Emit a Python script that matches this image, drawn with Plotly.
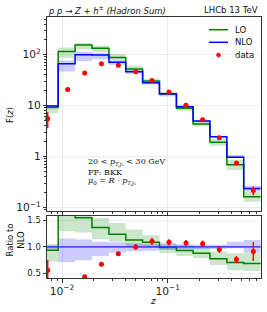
import plotly.graph_objects as go

# ---- data ----
edges = [0.0064, 0.0092, 0.0133, 0.0192, 0.0278, 0.0401, 0.0579, 0.0836,
         0.121, 0.174, 0.251, 0.363, 0.524, 0.757]
nlo = [9.8, 66, 100, 98, 71, 46, 28, 17, 9.5, 4.95, 2.45, 0.97, 0.235]
nlo_up = [10.1, 76.6, 114, 107.8, 77.4, 49.2, 29.7, 17.85, 9.93, 5.15, 2.55, 1.067, 0.266]
nlo_dn = [9.4, 46.9, 75, 81.3, 63.2, 42.3, 26.0, 16.0, 9.07, 4.75, 2.35, 0.946, 0.209]
lo = [9.2, 116, 155, 134, 88, 52, 30.5, 16.8, 8.85, 4.36, 1.90, 0.684, 0.162]
lo_up = [10.3, 138.6, 170, 151.9, 103, 61.2, 34.2, 18.4, 9.88, 4.9, 2.23, 0.854, 0.207]
lo_dn = [7.06, 85.8, 127, 112.7, 78.1, 46, 27.4, 15.0, 7.9, 3.91, 1.62, 0.543, 0.129]
data_z = [0.00732, 0.01132, 0.0164, 0.0236, 0.0341, 0.0498, 0.0710, 0.1028,
          0.1489, 0.2141, 0.3079, 0.4470, 0.6463]
data_f = [5.5, 20.6, 43.7, 66, 62, 46, 31, 18.5, 10.2, 5.25, 2.33, 0.74, 0.215]
data_err = [1.9, 1.4, 2.2, 3.0, 2.8, 2.5, 1.8, 1.0, 0.55, 0.3, 0.15, 0.065, 0.042]

GREEN = "#008000"
BLUE = "#0000ff"
GBAND = "rgba(0,128,0,0.2)"
BBAND = "rgba(0,0,255,0.2)"
FONT = "DejaVu Sans"


def step(vals):
    return list(vals) + [vals[-1]]


def bin_index(z):
    for i in range(len(edges) - 1):
        if edges[i] <= z < edges[i + 1]:
            return i
    return len(edges) - 2


fig = go.Figure()


def add_band(lo_vals, hi_vals, color, xa, ya):
    fig.add_trace(go.Scatter(x=edges, y=step(lo_vals), mode="lines", line=dict(width=0, shape="hv"),
                             showlegend=False, hoverinfo="skip", xaxis=xa, yaxis=ya))
    fig.add_trace(go.Scatter(x=edges, y=step(hi_vals), mode="lines", line=dict(width=0, shape="hv"),
                             fill="tonexty", fillcolor=color, showlegend=False, hoverinfo="skip",
                             xaxis=xa, yaxis=ya))


# ---- top panel ----
add_band(lo_dn, lo_up, GBAND, "x", "y")
add_band(nlo_dn, nlo_up, BBAND, "x", "y")
fig.add_trace(go.Scatter(x=edges, y=step(lo), mode="lines", line=dict(color=GREEN, width=1.5, shape="hv"),
                         name="LO", showlegend=False, xaxis="x", yaxis="y"))
fig.add_trace(go.Scatter(x=edges, y=step(nlo), mode="lines", line=dict(color=BLUE, width=1.5, shape="hv"),
                         name="NLO", showlegend=False, xaxis="x", yaxis="y"))
fig.add_trace(go.Scatter(x=data_z, y=data_f, mode="markers", marker=dict(color="red", size=5),
                         error_y=dict(type="data", array=data_err, color="red", thickness=1.5, width=0),
                         name="data", showlegend=False, cliponaxis=False, xaxis="x", yaxis="y"))

# ---- ratio panel ----
r_lo = [a / b for a, b in zip(lo, nlo)]
r_lo_up = [a / b for a, b in zip(lo_up, nlo)]
r_lo_dn = [a / b for a, b in zip(lo_dn, nlo)]
r_nlo = [a / b for a, b in zip(nlo, nlo)]
r_nlo_up = [a / b for a, b in zip(nlo_up, nlo)]
r_nlo_dn = [a / b for a, b in zip(nlo_dn, nlo)]
idx = [bin_index(z) for z in data_z]
r_data = [d / nlo[i] for d, i in zip(data_f, idx)]
r_err = [e / nlo[i] for e, i in zip(data_err, idx)]

add_band(r_lo_dn, r_lo_up, GBAND, "x2", "y2")
add_band(r_nlo_dn, r_nlo_up, BBAND, "x2", "y2")
fig.add_trace(go.Scatter(x=edges, y=step(r_lo), mode="lines", line=dict(color=GREEN, width=1.5, shape="hv"),
                         showlegend=False, xaxis="x2", yaxis="y2"))
fig.add_trace(go.Scatter(x=edges, y=step(r_nlo), mode="lines",
                         line=dict(color="rgba(40,40,255,0.75)", width=1.8, shape="hv"),
                         showlegend=False, xaxis="x2", yaxis="y2"))
fig.add_trace(go.Scatter(x=data_z, y=r_data, mode="markers", marker=dict(color="red", size=5),
                         error_y=dict(type="data", array=r_err, color="red", thickness=1.5, width=0),
                         showlegend=False, xaxis="x2", yaxis="y2"))

# ---- layout ----
W, H = 267, 312
L, R, T, B = 47, 6, 17, 34
pw, ph = W - L - R, H - T - B


def px(xp):
    return (xp - L) / pw


def py(yp):
    return (H - B - yp) / ph


axis_common = dict(showline=True, mirror=True, linecolor="#333", linewidth=1,
                   ticks="outside", ticklen=3.5, tickwidth=0.8, tickcolor="#333",
                   gridcolor="#ececec", gridwidth=0.8, zeroline=False,
                   tickfont=dict(family=FONT, size=8.5, color="#222"))
xrange = [-2.142, -0.117]

fig.update_layout(
    width=W, height=H, margin=dict(l=L, r=R, t=T, b=B),
    paper_bgcolor="white", plot_bgcolor="white", showlegend=False,
    xaxis=dict(type="log", range=xrange, domain=[0, 1], anchor="y", showticklabels=False,
               dtick=1, minor=dict(ticks="outside", ticklen=2, tickcolor="#333", showgrid=False),
               **axis_common),
    yaxis=dict(type="log", range=[-1.07, 2.74], domain=[0.257, 1], anchor="x", dtick=1,
               exponentformat="power",
               minor=dict(ticks="outside", ticklen=2, tickcolor="#333", showgrid=False),
               **axis_common),
    xaxis2=dict(type="log", range=xrange, domain=[0, 1], anchor="y2", dtick=1,
                exponentformat="power", matches="x",
                minor=dict(ticks="outside", ticklen=2, tickcolor="#333", showgrid=False),
                **axis_common),
    yaxis2=dict(range=[0.415, 1.59], domain=[0, 0.239], anchor="x2",
                tickvals=[0.5, 1.0, 1.5], ticktext=["0.5", "1.0", "1.5"], **axis_common),
)

ann = []
ann.append(dict(text="<i>p p \u2192 Z + h<sup>\u00b1</sup> (Hadron Sum)</i>", x=px(46), y=py(10),
                xanchor="left", yanchor="middle", font=dict(family=FONT, size=8.5, color="#111")))
ann.append(dict(text="LHCb 13 TeV", x=px(260), y=py(10), xanchor="right", yanchor="middle",
                font=dict(family=FONT, size=8.5, color="#111")))
ann.append(dict(text="F(<i>z</i>)", x=px(10), y=py(115), textangle=-90, xanchor="center",
                yanchor="middle", font=dict(family=FONT, size=8.5, color="#111")))
ann.append(dict(text="Ratio to<br>NLO", x=px(14.5), y=py(240), textangle=-90, xanchor="center",
                yanchor="middle", font=dict(family=FONT, size=8.5, color="#111")))
ann.append(dict(text="<i>z</i>", x=px(153), y=py(301), xanchor="center", yanchor="middle",
                font=dict(family=FONT, size=9, color="#111")))
SERIF = "DejaVu Serif"
ann.append(dict(text="20 &lt; <i>p</i><sub><i>T,j</i>\u2081</sub> &lt; 30 GeV", x=px(86), y=py(162.7),
                xanchor="left", yanchor="middle", font=dict(family=SERIF, size=8, color="#111")))
ann.append(dict(text="FF: BKK", x=px(86), y=py(172.3), xanchor="left", yanchor="middle",
                font=dict(family=SERIF, size=8, color="#111")))
ann.append(dict(text="<i>\u03bc</i><sub>0</sub> = <i>R</i> \u00b7 <i>p</i><sub><i>T,j</i>\u2081</sub>",
                x=px(86), y=py(181.7), xanchor="left", yanchor="middle",
                font=dict(family=SERIF, size=8, color="#111")))
# manual legend text
for label, yp in [("LO", 29.7), ("NLO", 42.3), ("data", 55)]:
    ann.append(dict(text=label, x=px(233), y=py(yp), xanchor="left", yanchor="middle",
                    font=dict(family=FONT, size=8.5, color="#111")))
for a in ann:
    a.update(xref="paper", yref="paper", showarrow=False)
fig.update_layout(annotations=ann)

shapes = [
    dict(type="line", xref="paper", yref="paper", x0=px(209), x1=px(228), y0=py(29.7), y1=py(29.7),
         line=dict(color=GREEN, width=1.5)),
    dict(type="line", xref="paper", yref="paper", x0=px(209), x1=px(228), y0=py(42.3), y1=py(42.3),
         line=dict(color=BLUE, width=1.5)),
    dict(type="circle", xref="paper", yref="paper", x0=px(216.5), x1=px(220.5), y0=py(57), y1=py(53),
         fillcolor="red", line=dict(color="red", width=0.5)),
]
fig.update_layout(shapes=shapes)

fig.write_html("out.html", config={"displayModeBar": False},
               post_script="document.body.style.margin='0';")
